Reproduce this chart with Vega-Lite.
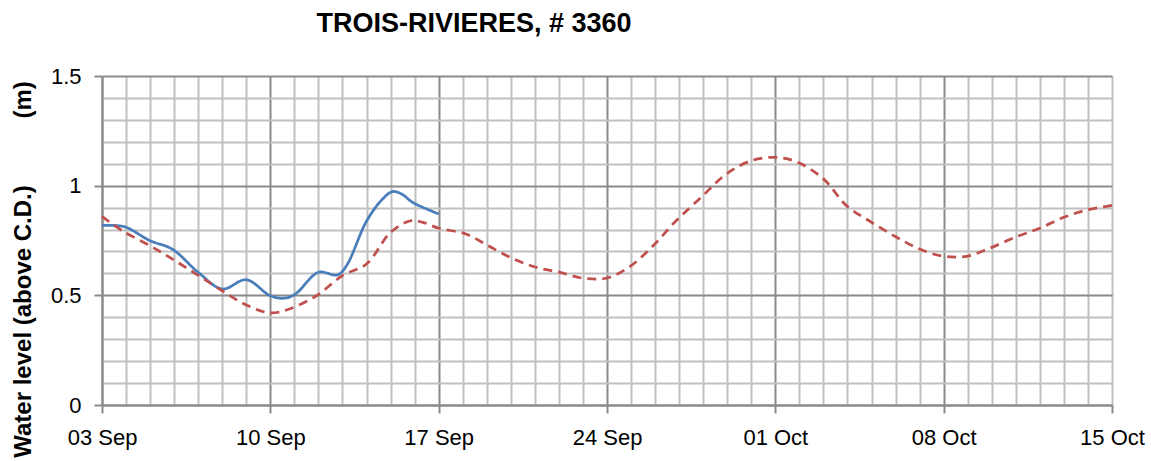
{
  "$schema": "https://vega.github.io/schema/vega-lite/v6.json",
  "width": 1010,
  "height": 329,
  "autosize": {"type": "none"},
  "padding": {"left": 102, "top": 76, "right": 39, "bottom": 56},
  "background": "white",
  "title": {
    "text": "TROIS-RIVIERES, # 3360",
    "font": "Liberation Sans",
    "fontSize": 27,
    "fontWeight": "bold",
    "color": "#000000",
    "anchor": "middle",
    "baseline": "alphabetic",
    "dx": -133,
    "offset": 6
  },
  "config": {
    "view": {"stroke": null},
    "axis": {
      "labelFont": "Liberation Sans",
      "titleFont": "Liberation Sans",
      "labelColor": "#000000",
      "titleColor": "#000000"
    }
  },
  "data": {
    "values": [
      {"t": "2023-09-03T00:00:00Z", "series": "Observed", "v": 0.818},
      {"t": "2023-09-03T22:00:00Z", "series": "Observed", "v": 0.813},
      {"t": "2023-09-05T00:00:00Z", "series": "Observed", "v": 0.749},
      {"t": "2023-09-05T22:00:00Z", "series": "Observed", "v": 0.711},
      {"t": "2023-09-07T00:00:00Z", "series": "Observed", "v": 0.605},
      {"t": "2023-09-08T00:00:00Z", "series": "Observed", "v": 0.529},
      {"t": "2023-09-09T00:00:00Z", "series": "Observed", "v": 0.571},
      {"t": "2023-09-10T00:00:00Z", "series": "Observed", "v": 0.498},
      {"t": "2023-09-10T14:00:00Z", "series": "Observed", "v": 0.487},
      {"t": "2023-09-11T01:00:00Z", "series": "Observed", "v": 0.506},
      {"t": "2023-09-12T00:00:00Z", "series": "Observed", "v": 0.605},
      {"t": "2023-09-12T19:00:00Z", "series": "Observed", "v": 0.593},
      {"t": "2023-09-13T04:00:00Z", "series": "Observed", "v": 0.635},
      {"t": "2023-09-14T00:00:00Z", "series": "Observed", "v": 0.838},
      {"t": "2023-09-14T16:00:00Z", "series": "Observed", "v": 0.939},
      {"t": "2023-09-15T02:00:00Z", "series": "Observed", "v": 0.973},
      {"t": "2023-09-15T11:00:00Z", "series": "Observed", "v": 0.962},
      {"t": "2023-09-15T22:00:00Z", "series": "Observed", "v": 0.924},
      {"t": "2023-09-17T00:00:00Z", "series": "Observed", "v": 0.871},
      {"t": "2023-09-03T00:00:00Z", "series": "Predicted", "v": 0.86},
      {"t": "2023-09-03T20:00:00Z", "series": "Predicted", "v": 0.795},
      {"t": "2023-09-05T00:00:00Z", "series": "Predicted", "v": 0.726},
      {"t": "2023-09-05T22:00:00Z", "series": "Predicted", "v": 0.666},
      {"t": "2023-09-06T22:00:00Z", "series": "Predicted", "v": 0.597},
      {"t": "2023-09-08T00:00:00Z", "series": "Predicted", "v": 0.521},
      {"t": "2023-09-09T00:00:00Z", "series": "Predicted", "v": 0.456},
      {"t": "2023-09-10T00:00:00Z", "series": "Predicted", "v": 0.42},
      {"t": "2023-09-10T19:00:00Z", "series": "Predicted", "v": 0.438},
      {"t": "2023-09-11T22:00:00Z", "series": "Predicted", "v": 0.498},
      {"t": "2023-09-13T00:00:00Z", "series": "Predicted", "v": 0.59},
      {"t": "2023-09-14T00:00:00Z", "series": "Predicted", "v": 0.643},
      {"t": "2023-09-15T00:00:00Z", "series": "Predicted", "v": 0.787},
      {"t": "2023-09-15T20:00:00Z", "series": "Predicted", "v": 0.84},
      {"t": "2023-09-16T08:00:00Z", "series": "Predicted", "v": 0.833},
      {"t": "2023-09-17T00:00:00Z", "series": "Predicted", "v": 0.806},
      {"t": "2023-09-18T03:00:00Z", "series": "Predicted", "v": 0.78},
      {"t": "2023-09-19T00:00:00Z", "series": "Predicted", "v": 0.73},
      {"t": "2023-09-20T00:00:00Z", "series": "Predicted", "v": 0.672},
      {"t": "2023-09-21T01:00:00Z", "series": "Predicted", "v": 0.628},
      {"t": "2023-09-22T01:00:00Z", "series": "Predicted", "v": 0.605},
      {"t": "2023-09-23T00:00:00Z", "series": "Predicted", "v": 0.578},
      {"t": "2023-09-24T00:00:00Z", "series": "Predicted", "v": 0.579},
      {"t": "2023-09-24T23:00:00Z", "series": "Predicted", "v": 0.632},
      {"t": "2023-09-25T22:00:00Z", "series": "Predicted", "v": 0.726},
      {"t": "2023-09-26T21:00:00Z", "series": "Predicted", "v": 0.84},
      {"t": "2023-09-27T22:00:00Z", "series": "Predicted", "v": 0.947},
      {"t": "2023-09-28T23:00:00Z", "series": "Predicted", "v": 1.053},
      {"t": "2023-09-30T00:00:00Z", "series": "Predicted", "v": 1.114},
      {"t": "2023-10-01T00:00:00Z", "series": "Predicted", "v": 1.129},
      {"t": "2023-10-01T21:00:00Z", "series": "Predicted", "v": 1.109},
      {"t": "2023-10-03T00:00:00Z", "series": "Predicted", "v": 1.031},
      {"t": "2023-10-03T23:00:00Z", "series": "Predicted", "v": 0.909},
      {"t": "2023-10-05T00:00:00Z", "series": "Predicted", "v": 0.833},
      {"t": "2023-10-06T01:00:00Z", "series": "Predicted", "v": 0.765},
      {"t": "2023-10-07T00:00:00Z", "series": "Predicted", "v": 0.711},
      {"t": "2023-10-08T00:00:00Z", "series": "Predicted", "v": 0.678},
      {"t": "2023-10-08T23:00:00Z", "series": "Predicted", "v": 0.678},
      {"t": "2023-10-09T22:00:00Z", "series": "Predicted", "v": 0.715},
      {"t": "2023-10-11T01:00:00Z", "series": "Predicted", "v": 0.768},
      {"t": "2023-10-12T00:00:00Z", "series": "Predicted", "v": 0.806},
      {"t": "2023-10-13T00:00:00Z", "series": "Predicted", "v": 0.856},
      {"t": "2023-10-13T23:00:00Z", "series": "Predicted", "v": 0.889},
      {"t": "2023-10-14T19:00:00Z", "series": "Predicted", "v": 0.906},
      {"t": "2023-10-15T00:00:00Z", "series": "Predicted", "v": 0.91}
    ]
  },
  "mark": {"type": "line", "interpolate": "catmull-rom", "strokeWidth": 2.75, "strokeCap": "butt"},
  "encoding": {
    "x": {
      "field": "t",
      "type": "temporal",
      "scale": {"type": "utc", "domain": ["2023-09-03T00:00:00Z", "2023-10-15T00:00:00Z"], "nice": false},
      "axis": {
        "title": null,
        "tickCount": {"interval": "day", "step": 1},
        "format": "%d %b",
        "labelExpr": "(time(datum.value) - utc(2023,8,3)) % 604800000 == 0 ? utcFormat(datum.value, '%d %b') : ''",
        "labelOverlap": false,
        "labelFlush": false,
        "labelFontSize": 22,
        "labelPadding": 14,
        "labelBaseline": "top",
        "grid": true,
        "gridWidth": 2,
        "gridColor": {"condition": {"test": "(time(datum.value) - utc(2023,8,3)) % 604800000 == 0 && time(datum.value) < utc(2023,9,15)", "value": "#8a8a8a"}, "value": "#c0c0c0"},
        "ticks": true,
        "tickSize": 8,
        "tickWidth": 2,
        "tickColor": "#8a8a8a",
        "tickOpacity": {"condition": {"test": "(time(datum.value) - utc(2023,8,3)) % 604800000 == 0", "value": 1}, "value": 0},
        "domain": true,
        "domainColor": "#8a8a8a",
        "domainWidth": 2
      }
    },
    "y": {
      "field": "v",
      "type": "quantitative",
      "scale": {"domain": [0, 1.5], "nice": false, "zero": true},
      "axis": {
        "title": "Water level (above C.D.)\u00a0\u00a0\u00a0\u00a0\u00a0\u00a0\u00a0\u00a0\u00a0\u00a0(m)",
        "titleFontSize": 24,
        "titleFontWeight": "bold",
        "titleAngle": -90,
        "titleAlign": "center",
        "titleBaseline": "alphabetic",
        "titleX": -72,
        "titleY": 193,
        "values": [0, 0.1, 0.2, 0.3, 0.4, 0.5, 0.6, 0.7, 0.8, 0.9, 1, 1.1, 1.2, 1.3, 1.4, 1.5],
        "format": "~g",
        "labelExpr": "round(datum.value*10) % 5 == 0 ? datum.label : ''",
        "labelFontSize": 22,
        "labelPadding": 13,
        "labelOverlap": false,
        "labelFlush": false,
        "grid": true,
        "gridWidth": 2,
        "gridColor": {"condition": {"test": "round(datum.value*10) % 5 == 0", "value": "#8a8a8a"}, "value": "#c0c0c0"},
        "tickSize": 8,
        "tickWidth": 2,
        "tickColor": "#8a8a8a",
        "tickOpacity": {"condition": {"test": "round(datum.value*10) % 5 == 0", "value": 1}, "value": 0},
        "domain": true,
        "domainColor": "#8a8a8a",
        "domainWidth": 2
      }
    },
    "color": {
      "field": "series",
      "type": "nominal",
      "scale": {"domain": ["Observed", "Predicted"], "range": ["#4a7ebb", "#c0504d"]},
      "legend": null
    },
    "strokeDash": {
      "field": "series",
      "type": "nominal",
      "scale": {"domain": ["Observed", "Predicted"], "range": [[1, 0], [9, 6]]},
      "legend": null
    }
  }
}
